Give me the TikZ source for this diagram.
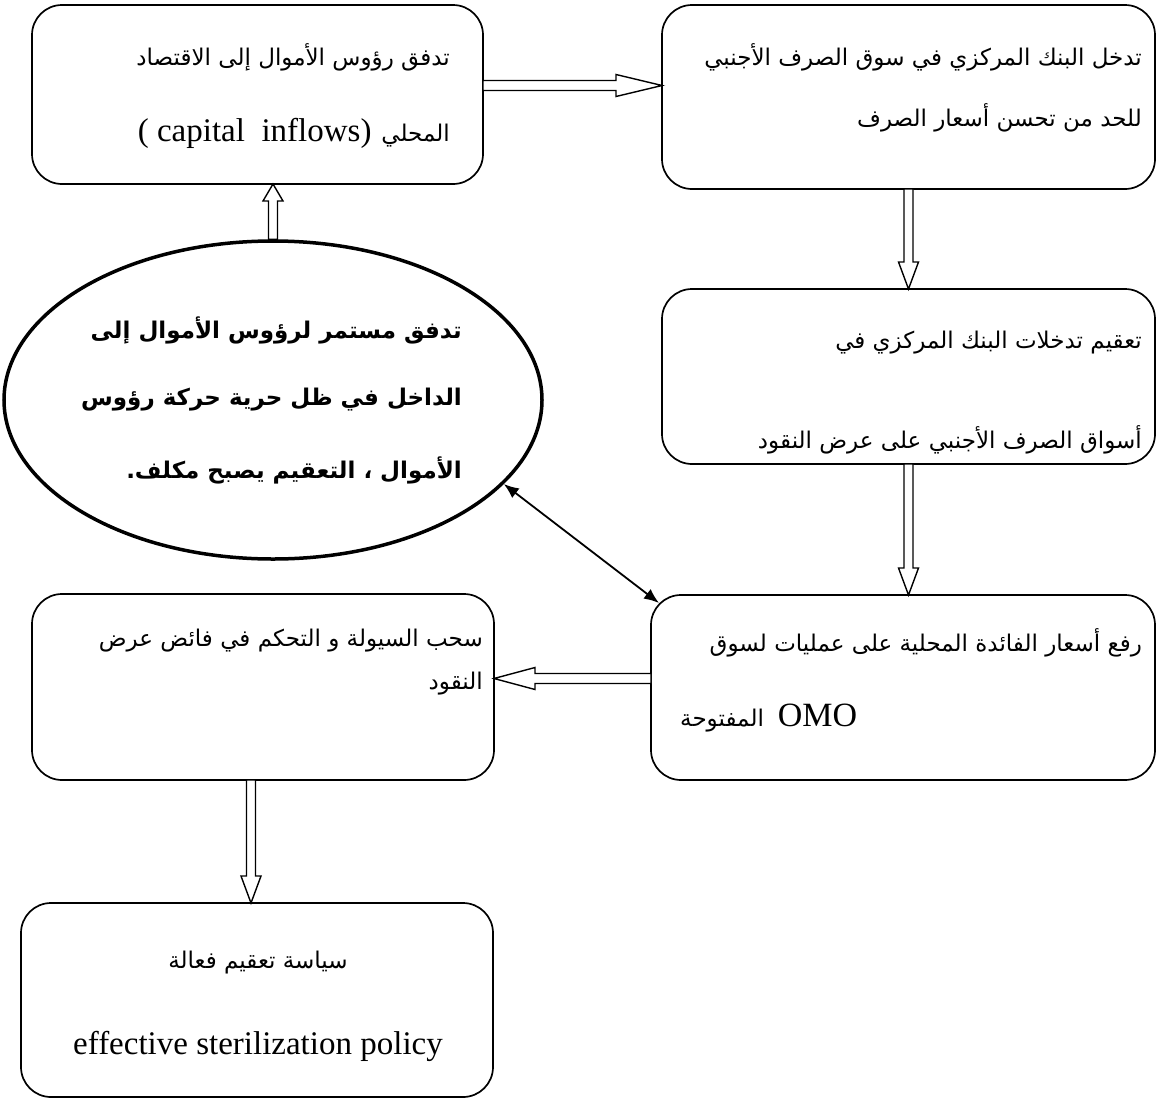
\documentclass[tikz,border=0pt]{standalone}
\usepackage{fontspec}
\setmainfont{Liberation Serif}
\newfontfamily\arfont[Script=Arabic]{DejaVu Sans}
\TeXXeTstate=1
\usetikzlibrary{calc,arrows.meta,shapes.geometric}
\newcommand\harr[3]{\draw[hollow] let \p1=(#1), \p2=(#2), \n1={ifthenelse(\x2>\x1,1,-1)}, \n2={\x2-\n1*#3} in
  (\x1,\y1+5pt) -- (\n2,\y1+5pt) -- (\n2,\y1+11pt) -- (\x2,\y1)
  -- (\n2,\y1-11pt) -- (\n2,\y1-5pt) -- (\x1,\y1-5pt) -- cycle;}
\newcommand\varr[3]{\draw[hollow] let \p1=(#1), \p2=(#2), \n1={ifthenelse(\y2>\y1,1,-1)}, \n2={\y2-\n1*#3} in
  (\x1+4.5pt,\y1) -- (\x1+4.5pt,\n2) -- (\x1+10pt,\n2) -- (\x1,\y2)
  -- (\x1-10pt,\n2) -- (\x1-4.5pt,\n2) -- (\x1-4.5pt,\y1) -- cycle;}
\newcommand\arsz{\arfont\fontsize{23}{27}\selectfont}
\newcommand\latsz{\fontsize{33}{38}\selectfont}
\begin{document}
\begin{tikzpicture}[x=1pt,y=-1pt,
  box/.style={draw, line width=1.7pt, rounded corners=30pt, inner sep=0pt, outer sep=0pt},
  ar/.style={font=\arsz, inner sep=0pt},
  arb/.style={font=\arfont\bfseries\fontsize{23}{28}\selectfont, inner sep=0pt},
  lat/.style={font=\latsz, inner sep=0pt},
  hollow/.style={draw, line width=1.4pt, fill=white, line join=miter},
  link/.style={line width=1.8pt, {Latex[length=15pt,width=12pt]}-{Latex[length=15pt,width=12pt]}}]
\useasboundingbox (0,0) rectangle (1157,1098);
\fill[white] (0,0) rectangle (1157,1098);
% boxes
\node[box, minimum width=451pt, minimum height=179pt] (b1) at (257.5,94.5) {};
\node[box, minimum width=493pt, minimum height=184pt] (b2) at (908.5,97) {};
\node[box, minimum width=493pt, minimum height=175pt] (b3) at (908.5,376.5) {};
\node[box, minimum width=504pt, minimum height=185pt] (b4) at (903,687.5) {};
\node[box, minimum width=462pt, minimum height=186pt] (b5) at (263,687) {};
\node[box, minimum width=472pt, minimum height=194pt] (b6) at (257,1000) {};
\node[draw, ellipse, line width=3.5pt, inner sep=0pt, minimum width=538pt, minimum height=318pt] (e) at (273,400) {};
% texts
\node[ar, anchor=east] (t1a) at (450,57) {\beginR تدفق رؤوس الأموال إلى الاقتصاد\endR};
\node[inner sep=0pt, anchor=east] (t1b) at (450,133) {{\latsz ( capital~~inflows)}\hspace{10pt}{\arsz\beginR المحلي\endR}};
\node[ar, anchor=east] (t2a) at (1142,57) {\beginR تدخل البنك المركزي في سوق الصرف الأجنبي\endR};
\node[ar, anchor=east] (t2b) at (1142,118) {\beginR للحد من تحسن أسعار الصرف\endR};
\node[ar, anchor=east] (t3a) at (1142,343) {\beginR تعقيم تدخلات البنك المركزي في\endR};
\node[ar, anchor=east] (t3b) at (1142,440) {\beginR أسواق الصرف الأجنبي على عرض النقود\endR};
\node[ar, anchor=east] (t4a) at (1142,643) {\beginR رفع أسعار الفائدة المحلية على عمليات لسوق\endR};
\node[inner sep=0pt, anchor=west] (t4b) at (680,718) {{\arsz\beginR المفتوحة\endR}\hspace{14pt}{\fontsize{34}{40}\selectfont OMO}};
\node[ar, anchor=east] (t5a) at (483,641) {\beginR سحب السيولة و التحكم في فائض عرض\endR};
\node[ar, anchor=east] (t5b) at (483,684) {\beginR النقود\endR};
\node[ar] (t6a) at (258,963) {\beginR سياسة تعقيم فعالة\endR};
\node[lat] (t6b) at (258,1046) {effective sterilization policy};
\node[arb, anchor=east] (te1) at (462,330) {\beginR تدفق مستمر لرؤوس الأموال إلى\endR};
\node[arb, anchor=east] (te2) at (462,400) {\beginR الداخل في ظل حرية حركة رؤوس\endR};
\node[arb, anchor=east] (te3) at (462,470) {\beginR الأموال ، التعقيم يصبح مكلف.\endR};
% arrows
\harr{[yshift=9pt]b1.east}{b2.west}{46pt}
\varr{e.north}{b1.south}{17pt}
\varr{b2.south}{b3.north}{27pt}
\varr{b3.south}{b4.north}{27pt}
\harr{[yshift=9pt]b4.west}{b5.east}{41pt}
\varr{[xshift=-12pt]b5.south}{b6.north}{27pt}
\coordinate (c4) at ($(b4.north west)+(8,8)$);
\draw[link] (e.-20) -- (c4);
\end{tikzpicture}
\end{document}
